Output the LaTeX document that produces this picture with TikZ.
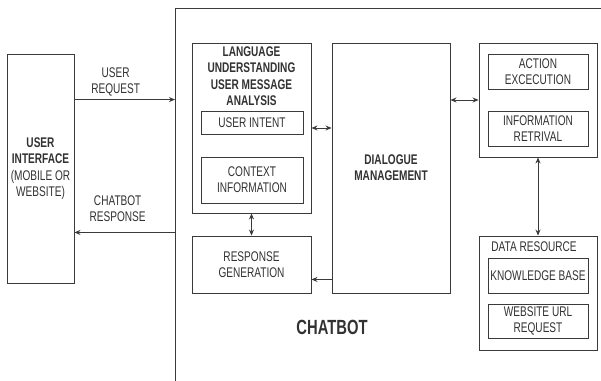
\documentclass[tikz,border=0pt]{standalone}
\usepackage{fontspec}
\setmainfont[FakeStretch=0.72]{Liberation Sans}
\usepackage{tikz}
\usetikzlibrary{arrows.meta, positioning, calc}
\definecolor{lineclr}{RGB}{58,58,58}
\definecolor{textclr}{RGB}{50,50,50}
\tikzset{
  box/.style={rectangle, draw=lineclr, line width=0.9pt, inner sep=0pt,
              minimum width=#1, font=\fontsize{14}{16.3}\selectfont,
              text=textclr, align=center},
  box/.default=100,
  lbl/.style={font=\fontsize{14}{16.3}\selectfont, text=textclr,
              align=center, inner sep=1pt},
  arr/.style={-{Stealth[length=6pt,width=5pt]}, line width=0.9pt, draw=lineclr},
  darr/.style={{Stealth[length=6pt,width=5pt]}-{Stealth[length=6pt,width=5pt]},
               line width=0.9pt, draw=lineclr},
}

\begin{document}
\begin{tikzpicture}[x=1pt, y=-1pt]
  \useasboundingbox (0,0) rectangle (601,380);
  \clip (0,0) rectangle (601,380);
  \fill[white] (0,0) rectangle (601,380);

  % user side
  \node[box=67, minimum height=229] (ui) at (40.5,168.5)
    {\textbf{USER}\\\textbf{INTERFACE}\\(MOBILE OR\\WEBSITE)};

  % chatbot frame, runs off the page on the right and bottom
  \node[box=470, minimum height=420, anchor=north west] (bot) at (175,8) {};
  \node[lbl, font=\fontsize{20.5}{22}\selectfont\bfseries] (botname) at (332,327) {CHATBOT};

  % language understanding
  \node[box=119, minimum height=170] (lang) at (251.5,128) {};
  \node[lbl, font=\fontsize{14}{16.3}\selectfont\bfseries] (langtitle)
    at ($(lang.north)+(0,33.5)$) {LANGUAGE\\UNDERSTANDING\\USER MESSAGE\\ANALYSIS};
  \node[box=102, minimum height=23] (intent) at (252,122.5) {USER INTENT};
  \node[box=102, minimum height=46] (context) at (252,180) {CONTEXT\\INFORMATION};
  \node[box=119, minimum height=57] (resp) at (251.5,264.5) {RESPONSE\\GENERATION};

  % dialogue management
  \node[box=118, minimum height=250, font=\fontsize{14}{16.3}\selectfont\bfseries] (dlg)
    at (391,168) {DIALOGUE\\MANAGEMENT};

  % action block
  \node[box=118, minimum height=114] (act) at (538,100) {};
  \node[box, minimum height=35] (exec) at (538,71.5) {ACTION\\EXCECUTION};
  \node[box, minimum height=35] (retr) at (538,128.5) {INFORMATION\\RETRIVAL};

  % data resource block
  \node[box=118, minimum height=114] (data) at (538,293) {};
  \node[lbl] (datatitle) at (534,247) {DATA RESOURCE};
  \node[box, minimum height=35] (kb) at (538,275.5) {KNOWLEDGE BASE};
  \node[box, minimum height=34] (url) at (538,321) {WEBSITE URL\\REQUEST};

  % connectors
  \draw[arr] ($(ui.north east)+(0,46)$) coordinate (rq) -- (rq -| bot.west)
    node[lbl, above=2pt, pos=0.41] (rqlbl) {USER\\REQUEST};
  \draw[arr] (bot.west |- {$(ui.south east)+(0,-51)$}) -- ($(ui.south east)+(0,-51)$)
    node[lbl, above=9pt, pos=0.57] (rslbl) {CHATBOT\\RESPONSE};
  \draw[darr] (lang.east) -- (lang.east -| dlg.west);
  \draw[darr] (lang.south) -- (resp.north);
  \draw[arr] ($(dlg.south west)+(0,-14)$) coordinate (dr) -- (dr -| resp.east);
  \draw[darr] (act.west -| dlg.east) -- (act.west);
  \draw[darr] (act.south) -- (data.north);
\end{tikzpicture}
\end{document}
